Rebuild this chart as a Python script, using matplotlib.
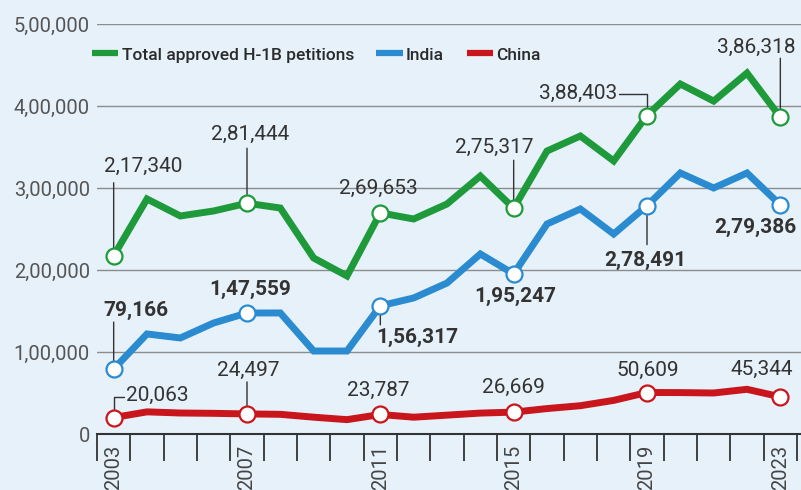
import matplotlib
matplotlib.use("Agg")
import matplotlib.pyplot as plt
from matplotlib.lines import Line2D

# ---- data -------------------------------------------------------------
years = list(range(2003, 2024))
total = [217340, 286600, 265900, 272000, 281444, 275600, 214600, 192700,
         269653, 262200, 280500, 314600, 275317, 345100, 363400, 333000,
         388403, 426800, 406000, 440200, 386318]
india = [79166, 122000, 117100, 135400, 147559, 147600, 101200, 101200,
         156317, 165900, 184100, 219500, 195247, 256100, 274400, 243900,
         278491, 318300, 300000, 318300, 279386]
china = [20063, 27000, 25600, 25200, 24497, 24000, 20500, 17500,
         23787, 20500, 23000, 25500, 26669, 31000, 34500, 41000,
         50609, 50500, 50000, 54500, 45344]
series_names = ["Total approved H-1B petitions", "India", "China"]
year_labels = [2003, 2007, 2011, 2015, 2019, 2023]
y_ticks = [0, 100000, 200000, 300000, 400000, 500000]

# ---- style ------------------------------------------------------------
BG = "#e6f1fa"
GREEN = "#1e9a3a"
BLUE = "#2a8bd0"
RED = "#c9161c"
TXT = "#333333"
FONT = ["Roboto", "DejaVu Sans"]
plt.rcParams["font.family"] = FONT


def indian(n):
    s = str(int(round(n)))
    if len(s) <= 3:
        return s
    last3, rest = s[-3:], s[:-3]
    groups = []
    while len(rest) > 2:
        groups.insert(0, rest[-2:])
        rest = rest[:-2]
    if rest:
        groups.insert(0, rest)
    return ",".join(groups + [last3])


fig = plt.figure(figsize=(8.01, 4.90), dpi=100, facecolor=BG)
ax = fig.add_axes([97 / 801, 56 / 490, 704 / 801, 410 / 490], facecolor=BG)

ax.set_xlim(2002.5, 2023.62)
ax.set_ylim(0, 500000)

# grid and axes
ax.set_yticks(y_ticks)
ax.set_yticklabels([indian(v) for v in y_ticks], fontsize=14.5, color="#555555")
ax.tick_params(axis="y", length=0, pad=5)
ax.grid(axis="y", color="#8c8c8c", lw=1.0)
ax.set_axisbelow(True)
for s in ["top", "right", "left"]:
    ax.spines[s].set_visible(False)
ax.spines["bottom"].set_color("#333333")
ax.spines["bottom"].set_linewidth(1.5)

ax.set_xticks(year_labels)
ax.set_xticklabels([str(y) for y in year_labels], rotation=90,
                   fontsize=14.5, color="#444444")
ax.tick_params(axis="x", which="major", length=0, pad=8)
ax.set_xticks([y - 0.5 for y in years] + [years[-1] + 0.5], minor=True)
ax.tick_params(axis="x", which="minor", length=19.5, width=1.3,
               color="#333333", direction="out")

# series
marked = [years.index(y) for y in year_labels]
for vals, col in [(total, GREEN), (india, BLUE), (china, RED)]:
    ax.plot(years, vals, color=col, lw=5, solid_joinstyle="miter",
            solid_capstyle="butt", zorder=3, clip_on=False)
    ax.plot([years[i] for i in marked], [vals[i] for i in marked],
            ls="none", marker="o", ms=11.5, mfc="white", mec=col, mew=1.6,
            zorder=4, clip_on=False)

# value labels: (series, year, dx, dy, ha, leader)
layout = [
    (total, 2003, -10, 89, "left", ("v", 73)),
    (total, 2007, 3, 69, "center", ("v", 55)),
    (total, 2011, -2, 24, "center", None),
    (total, 2015, -19, 61, "center", ("v", 48)),
    (total, 2019, -30, 22, "right", ("elbow", -28, 22)),
    (total, 2023, -24, 70, "center", ("v", 59)),
    (india, 2003, -10, 59, "left", ("v", 47)),
    (india, 2007, 3, 24, "center", None),
    (india, 2011, -4, -32, "left", ("v", -19)),
    (india, 2015, 2, -23, "center", None),
    (india, 2019, -2, -55, "center", ("v", -39)),
    (india, 2023, -25, -23, "center", None),
    (china, 2003, 12, 22, "left", ("elbow", 10, 21)),
    (china, 2007, 1, 44, "center", ("v", 32)),
    (china, 2011, -2, 24, "center", None),
    (china, 2015, 0, 25, "center", None),
    (china, 2019, 1, 22, "center", None),
    (china, 2023, -19, 27, "center", None),
]
for vals, yr, dx, dy, ha, leader in layout:
    v = vals[years.index(yr)]
    weight = "bold" if vals is india else "normal"
    ax.annotate(indian(v), xy=(yr, v), xytext=(dx, dy),
                textcoords="offset pixels", ha=ha, va="center",
                fontsize=15, color=TXT, fontweight=weight, zorder=6,
                annotation_clip=False)
    if leader is None:
        continue
    if leader[0] == "v":
        ax.annotate("", xy=(yr, v), xytext=(0, leader[1]),
                    textcoords="offset pixels", annotation_clip=False,
                    arrowprops=dict(arrowstyle="-", color=TXT, lw=1.0,
                                    shrinkA=0, shrinkB=6), zorder=2)
    else:
        ax.annotate("", xy=(yr, v), xytext=(leader[1], leader[2]),
                    textcoords="offset pixels", annotation_clip=False,
                    arrowprops=dict(arrowstyle="-", color=TXT, lw=1.0,
                                    shrinkA=0, shrinkB=6,
                                    connectionstyle="angle,angleA=0,angleB=90,rad=0"),
                    zorder=2)

# legend
handles = [Line2D([], [], color=c, lw=4.5, solid_capstyle="butt")
           for c in (GREEN, BLUE, RED)]
leg = fig.legend(handles, series_names, ncol=3, frameon=False,
                 loc="center left", bbox_to_anchor=(92 / 801, 1 - 55 / 490),
                 prop={"family": FONT, "size": 12.5, "weight": "medium"},
                 handlelength=1.5, handletextpad=0.2,
                 columnspacing=1.3, borderpad=0, borderaxespad=0)
for t in leg.get_texts():
    t.set_color("#2a2a2a")

fig.savefig("out.png", dpi=100, facecolor=BG)
